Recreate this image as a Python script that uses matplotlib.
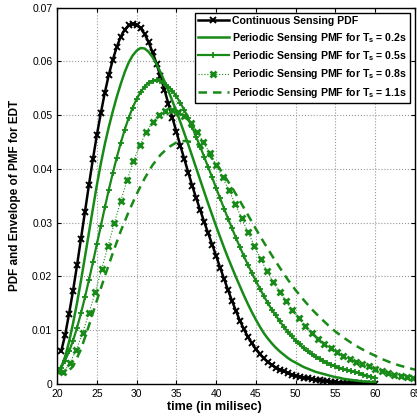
import numpy as np
import matplotlib
matplotlib.use("Agg")
import matplotlib.pyplot as plt

# time axis starts (ms) and sample spacing of each curve
t_start_cont, t_step_cont = 20.5, 0.5
t_start_02, t_step_02 = 20.0, 0.5
t_start_05, t_step_05 = 20.0, 0.5
t_start_08, t_step_08 = 20.0, 0.8
t_start_11, t_step_11 = 20.0, 1.0

pdf_cont = [
    .0060, .0090, .0130, .0173, .0220, .0270, .0320, .0370, .0418, .0463,
    .0504, .0542, .0575, .0603, .0627, .0646, .0659, .0667, .0670, .0668,
    .0662, .0651, .0636, .0617, .0596, .0572, .0547, .0521, .0495, .0469,
    .0443, .0418, .0393, .0368, .0345, .0323, .0301, .0280, .0259, .0238,
    .0216, .0195, .0174, .0154, .0135, .0117, .0101, .0087, .0075, .0064,
    .0055, .0047, .0040, .0035, .0030, .0026, .0023, .0020, .0017, .0015,
    .0013, .0011, .0010, .0008, .0007, .0006, .0005, .0004, .0003, .0003,
    .0002, .0002, .0001, .0001, .0001, .0001, .0000, .0000, .0000, .0000,
]

pmf_02 = [
    .0022, .0030, .0050, .0078, .0112, .0150, .0192, .0236, .0281, .0326,
    .0370, .0410, .0446, .0478, .0507, .0534, .0558, .0580, .0598, .0611,
    .0620, .0625, .0624, .0618, .0608, .0595, .0580, .0563, .0545, .0526,
    .0507, .0487, .0466, .0445, .0423, .0401, .0379, .0357, .0335, .0314,
    .0293, .0273, .0253, .0234, .0216, .0198, .0181, .0164, .0148, .0133,
    .0119, .0106, .0094, .0084, .0075, .0067, .0060, .0054, .0048, .0043,
    .0039, .0035, .0031, .0028, .0025, .0022, .0020, .0018, .0016, .0014,
    .0012, .0011, .0009, .0008, .0007, .0006, .0005, .0004, .0004, .0003,
    .0003,
]

pmf_05 = [
    .0020, .0030, .0043, .0060, .0080, .0104, .0131, .0161, .0193, .0226,
    .0260, .0294, .0328, .0361, .0392, .0421, .0448, .0473, .0495, .0514,
    .0530, .0543, .0553, .0560, .0564, .0565, .0563, .0559, .0553, .0545,
    .0535, .0523, .0509, .0494, .0477, .0459, .0441, .0422, .0403, .0384,
    .0364, .0345, .0326, .0307, .0289, .0271, .0254, .0237, .0221, .0206,
    .0191, .0177, .0163, .0150, .0138, .0127, .0116, .0106, .0097, .0088,
    .0080, .0073, .0066, .0060, .0055, .0050, .0046, .0042, .0038, .0035,
    .0032, .0029, .0027, .0025, .0023, .0021, .0019, .0017, .0015, .0013,
    .0011,
]

pmf_08 = [
    .0025, .0021, .0038, .0063, .0094, .0131, .0171, .0213, .0256, .0299,
    .0340, .0379, .0414, .0444, .0468, .0487, .0500, .0507, .0509, .0506,
    .0498, .0485, .0469, .0450, .0429, .0407, .0384, .0360, .0335, .0308,
    .0282, .0257, .0232, .0209, .0189, .0170, .0153, .0137, .0122, .0108,
    .0095, .0084, .0074, .0066, .0059, .0052, .0046, .0041, .0036, .0032,
    .0028, .0024, .0020, .0017, .0014, .0012, .0010,
]

pmf_11 = [
    .0020, .0018, .0032, .0064, .0108, .0155, .0200, .0243, .0284, .0320,
    .0353, .0382, .0407, .0426, .0440, .0449, .0452, .0450, .0443, .0428,
    .0410, .0388, .0365, .0340, .0314, .0288, .0263, .0239, .0216, .0194,
    .0174, .0156, .0139, .0124, .0110, .0097, .0086, .0076, .0067, .0059,
    .0052, .0045, .0039, .0034, .0030, .0026,
]

x_ticks = [20, 25, 30, 35, 40, 45, 50, 55, 60, 65]
y_ticks = [0, 0.01, 0.02, 0.03, 0.04, 0.05, 0.06, 0.07]
y_ticklabels = ["0", "0.01", "0.02", "0.03", "0.04", "0.05", "0.06", "0.07"]

labels = [
    "Continuous Sensing PDF",
    r"Periodic Sensing PMF for T$_\mathbf{s}$ = 0.2s",
    r"Periodic Sensing PMF for T$_\mathbf{s}$ = 0.5s",
    r"Periodic Sensing PMF for T$_\mathbf{s}$ = 0.8s",
    r"Periodic Sensing PMF for T$_\mathbf{s}$ = 1.1s",
]


def times(start, step, vals):
    return start + step * np.arange(len(vals))


def main():
    plt.rcParams["font.family"] = ["Liberation Sans", "DejaVu Sans"]
    plt.rcParams["mathtext.fontset"] = "custom"
    plt.rcParams["mathtext.rm"] = "Liberation Sans"
    plt.rcParams["mathtext.bf"] = "Liberation Sans:bold"

    green = "#178a17"
    fig = plt.figure(figsize=(4.17, 4.17), dpi=100)
    ax = fig.add_axes([0.137, 0.080, 0.858, 0.9015])

    ax.plot(times(t_start_cont, t_step_cont, pdf_cont), pdf_cont, color="black",
            lw=1.8, marker="x", ms=4, mew=1.4, label=labels[0])
    ax.plot(times(t_start_02, t_step_02, pmf_02), pmf_02, color=green,
            lw=1.8, label=labels[1])
    ax.plot(times(t_start_05, t_step_05, pmf_05), pmf_05, color=green,
            lw=1.6, marker="+", ms=5, mew=1.3, label=labels[2])
    ax.plot(times(t_start_08, t_step_08, pmf_08), pmf_08, color=green,
            lw=0.8, ls=":", marker="x", ms=4, mew=2, label=labels[3])
    ax.plot(times(t_start_11, t_step_11, pmf_11), pmf_11, color=green,
            lw=1.8, ls=(0, (3.4, 2.4)), label=labels[4])

    ax.set_xlim(20, 65)
    ax.set_ylim(0, 0.07)
    ax.set_xticks(x_ticks)
    ax.set_yticks(y_ticks)
    ax.set_yticklabels(y_ticklabels)
    ax.tick_params(direction="in", top=True, right=True, labelsize=7.5,
                   length=3, width=0.8)
    ax.grid(True, ls=":", color="#999999", lw=0.8)
    for s in ax.spines.values():
        s.set_linewidth(1.0)

    ax.set_xlabel("time (in milisec)", fontsize=9, fontweight="bold", labelpad=1)
    ax.xaxis.set_label_coords(0.44, -0.045)
    ax.set_ylabel("PDF and Envelope of PMF for EDT", fontsize=8.5, fontweight="bold")
    ax.yaxis.set_label_coords(-0.1, 0.5)

    leg = ax.legend(loc="upper right", bbox_to_anchor=(0.986, 0.986), borderaxespad=0,
                    prop={"size": 7.6, "weight": "bold"}, handlelength=2.9,
                    fancybox=False, framealpha=1, edgecolor="black",
                    labelspacing=0.42, handletextpad=0.3, borderpad=0.3)
    leg.get_frame().set_linewidth(1.0)

    fig.savefig("out.png", dpi=100)
    return 0


if __name__ == "__main__":
    exit(main())
